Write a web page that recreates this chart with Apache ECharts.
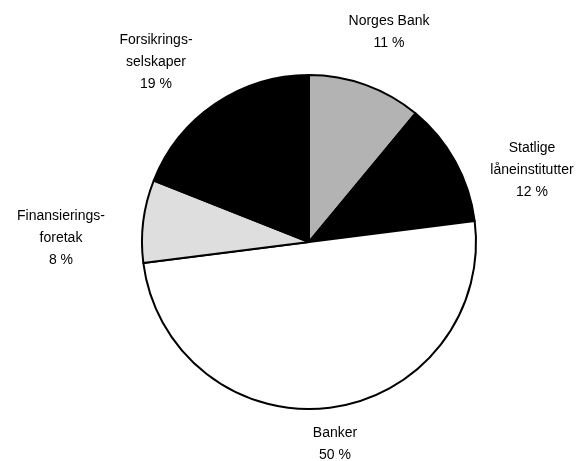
<!DOCTYPE html>
<html>
<head>
<meta charset="utf-8">
<script src="https://cdn.jsdelivr.net/npm/echarts@6/dist/echarts.min.js"></script>
<style>
  html, body { margin: 0; padding: 0; background: #fff; }
  #chart { width: 583px; height: 461px; }
</style>
</head>
<body>
<div id="chart"></div>
<script>
// andel av utlån etter långivertype (prosent)
var categories = ['Norges Bank', 'Statlige\nlåneinstitutter', 'Banker', 'Finansierings-\nforetak', 'Forsikrings-\nselskaper'];
var shares = [11, 12, 50, 8, 19];
var fills = ['#b3b3b3', '#000000', '#ffffff', '#dedede', '#000000'];
// plassering av etikettene (sentrum av teksten)
var labelPos = [[389, 32], [532, 170], [335, 444], [61, 238], [156, 62]];

var chart = echarts.init(document.getElementById('chart'));
var option = {
    animation: false,
    series: [
        {
            type: 'pie',
            center: [309, 242],
            radius: 167,
            startAngle: 90,
            clockwise: true,
            data: categories.map(function (name, i) {
                return { name: name, value: shares[i], itemStyle: { color: fills[i] } };
            }),
            itemStyle: { borderColor: '#000', borderWidth: 2 },
            label: {
                show: true,
                position: 'outside',
                formatter: '{b}\n{c} %',
                color: '#000',
                fontFamily: 'Liberation Sans, Arial, sans-serif',
                fontSize: 14,
                lineHeight: 22,
                overflow: 'none',
                align: 'center'
            },
            labelLine: { show: false },
            labelLayout: function (params) {
                var p = labelPos[params.dataIndex];
                return {
                    x: p[0],
                    y: p[1],
                    align: 'center',
                    verticalAlign: 'middle'
                };
            },
            emphasis: { disabled: true }
        }
    ]
};
chart.setOption(option);
</script>
</body>
</html>
